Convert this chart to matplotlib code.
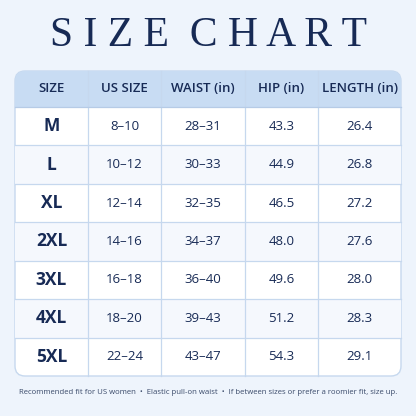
import matplotlib.pyplot as plt
from matplotlib.patches import FancyBboxPatch, Rectangle

headers = ['SIZE', 'US SIZE', 'WAIST (in)', 'HIP (in)', 'LENGTH (in)']
sizes = ['M', 'L', 'XL', '2XL', '3XL', '4XL', '5XL']
us_size = ['8–10', '10–12', '12–14', '14–16', '16–18', '18–20', '22–24']
waist = ['28–31', '30–33', '32–35', '34–37', '36–40', '39–43', '43–47']
hip = [43.3, 44.9, 46.5, 48.0, 49.6, 51.2, 54.3]
length = [26.4, 26.8, 27.2, 27.6, 28.0, 28.3, 29.1]

navy = '#172a55'
line = '#c6d8ee'
cols = [15, 88, 161, 245, 318, 401]
top, head_bot, bot = 71, 107, 376
row_h = (bot - head_bot) / len(sizes)

fig = plt.figure(figsize=(4.16, 4.16), dpi=100)
fig.patch.set_facecolor('#eef4fc')
ax = fig.add_axes([0, 0, 1, 1])
ax.set_xlim(0, 416)
ax.set_ylim(416, 0)
ax.axis('off')

# table body with rounded corners
body = FancyBboxPatch((cols[0], top), cols[-1] - cols[0], bot - top,
                      boxstyle='round,pad=0,rounding_size=10',
                      fc='white', ec=line, lw=1, zorder=1)
ax.add_patch(body)
head = Rectangle((cols[0], top), cols[-1] - cols[0], head_bot - top,
                 fc='#c8dcf3', ec='none', zorder=2)
head.set_clip_path(body)
ax.add_patch(head)
for i in range(len(sizes)):
    if i % 2 == 1:
        r = Rectangle((cols[0], head_bot + i * row_h), cols[-1] - cols[0], row_h,
                      fc='#f5f8fd', ec='none', zorder=2)
        r.set_clip_path(body)
        ax.add_patch(r)

for x in cols[1:-1]:
    ax.plot([x, x], [top, bot], color=line, lw=0.9, zorder=3)
for i in range(1, len(sizes)):
    y = head_bot + i * row_h
    ax.plot([cols[0], cols[-1]], [y, y], color=line, lw=0.9, zorder=3)
ax.plot([cols[0], cols[-1]], [head_bot, head_bot], color='#b6cbe6', lw=0.9, zorder=3)

# title with a little letter spacing
ax.text(208, 36, 'S I Z E   C H A R T'.replace('   ', '  '), ha='center', va='center',
        fontsize=30, family='Liberation Serif', color=navy)

centers = [(cols[i] + cols[i + 1]) / 2 for i in range(5)]
for c, h in zip(centers, headers):
    ax.text(c, (top + head_bot) / 2, h, ha='center', va='center', fontsize=9.5,
            family='Open Sans', weight='semibold', color=navy, zorder=4)

for i in range(len(sizes)):
    y = head_bot + (i + 0.5) * row_h
    vals = [us_size[i], waist[i], f'{hip[i]:.1f}', f'{length[i]:.1f}']
    ax.text(centers[0], y, sizes[i], ha='center', va='center', fontsize=12.5,
            family='Open Sans', weight='bold', color=navy, zorder=4)
    for c, v in zip(centers[1:], vals):
        ax.text(c, y, v, ha='center', va='center', fontsize=9.5,
                family='Open Sans', color=navy, zorder=4)

ax.text(208, 393, 'Recommended fit for US women  •  Elastic pull-on waist  •  '
        'If between sizes or prefer a roomier fit, size up.',
        ha='center', va='center', fontsize=5.6, family='Open Sans', color='#3a4a6a')

fig.savefig('out.png', dpi=100, facecolor=fig.get_facecolor())
